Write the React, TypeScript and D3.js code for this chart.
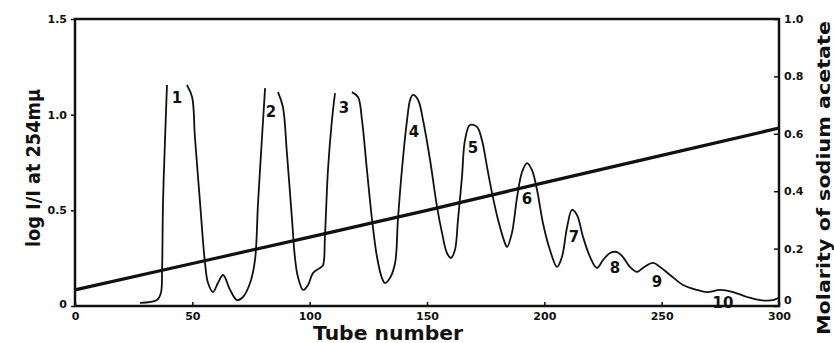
import React, { useEffect, useRef } from 'react';
import * as d3 from 'd3';

// absorbance trace, null = pen off scale (peak tops cut off)
const tubes = [
  27.7, 34.9, 36.6, 37.1, 37.5, 38.4, 39.2, 43.5,
  47.7, 49.9, 51.1, 53.3, 55.4, 56.7, 58.8, 60.9, 63.1, 66.1, 69.0, 71.6, 74.6, 76.7, 78.0, 79.7, 81.0, 83.7,
  86.5, 88.6, 90.3, 92.5, 93.7, 95.0, 97.2, 99.3, 101.4, 104.4, 105.7, 106.5, 107.8, 109.5, 110.8, 114.4,
  118.0, 120.6, 122.3, 124.4, 126.6, 128.7, 130.8, 132.1, 134.2, 136.4, 137.6, 139.3, 141.5, 142.8, 144.0,
  146.2, 148.3, 151.3, 154.3, 156.4, 158.5, 160.2, 161.9, 163.2, 164.9, 166.2, 168.3, 171.3, 173.4, 175.6,
  177.7, 180.3, 183.2, 184.1, 186.2, 188.4, 190.5, 192.6, 194.7, 196.9, 199.4, 202.4, 205.4, 207.5, 209.7,
  211.8, 213.9, 216.5, 219.5, 222.4, 225.0, 228.0, 231.0, 233.5, 236.5, 239.5, 242.0, 246.3, 249.3, 253.6,
  259.1, 265.1, 269.3, 274.9, 280.4, 286.4, 291.9, 297.4, 299.6,
];
const absorbance = [
  0.016, 0.031, 0.068, 0.188, 0.538, 0.883, 1.155, null,
  1.155, 1.092, 0.883, 0.538, 0.225, 0.120, 0.073, 0.120, 0.162, 0.084, 0.031, 0.047, 0.120, 0.240, 0.538, 0.883, 1.139, null,
  1.118, 1.040, 0.800, 0.449, 0.256, 0.152, 0.084, 0.110, 0.172, 0.199, 0.214, 0.361, 0.711, 0.972, 1.113, null,
  1.118, 1.092, 0.972, 0.711, 0.449, 0.256, 0.146, 0.120, 0.146, 0.225, 0.449, 0.711, 0.972, 1.077, 1.103,
  1.077, 0.972, 0.763, 0.517, 0.382, 0.277, 0.251, 0.293, 0.449, 0.674, 0.868, 0.946, 0.936, 0.868, 0.726,
  0.591, 0.449, 0.329, 0.308, 0.382, 0.570, 0.700, 0.747, 0.711, 0.606, 0.434, 0.293, 0.204, 0.256, 0.413,
  0.502, 0.476, 0.361, 0.256, 0.199, 0.240, 0.277, 0.282, 0.256, 0.204, 0.178, 0.199, 0.225, 0.204, 0.162,
  0.110, 0.084, 0.073, 0.084, 0.073, 0.047, 0.031, 0.031, 0.042,
];

// sodium acetate gradient (right axis)
const molarityTubes = [0, 50, 100, 150, 200, 250, 300];
const molarity = [0.056, 0.148, 0.24, 0.333, 0.43, 0.525, 0.62];

// peak numbers
const peakNames = ['1', '2', '3', '4', '5', '6', '7', '8', '9', '10'];
const peakTubes = [43.5, 83.5, 114.6, 144.5, 169.6, 192.6, 212.6, 230.1, 248.0, 276.1];
const peakLevels = [1.087, 1.014, 1.035, 0.909, 0.826, 0.559, 0.361, 0.199, 0.125, 0.016];

const xTicks = [0, 50, 100, 150, 200, 250, 300];
const leftTicks = [0, 0.5, 1.0, 1.5];
const rightTicks = [0, 0.2, 0.4, 0.6, 0.8, 1.0];

const W = 834;
const H = 343;
const FONT = '"DejaVu Sans", sans-serif';

export default function App() {
  const svgRef = useRef<SVGSVGElement>(null);

  useEffect(() => {
    const svg = d3.select(svgRef.current);
    svg.selectAll('*').remove();

    const x = d3.scaleLinear().domain([0, 300]).range([75, 779]);
    const yL = d3.scaleLinear().domain([0, 1.5]).range([306, 19]);
    const yR = d3.scaleLinear().domain([0, 1.0]).range([306, 19]);

    // axes
    const fmt = (d: number) => (d === 0 ? '0' : d3.format('.1f')(d));

    const gx = svg.append('g')
      .attr('transform', `translate(0,${yL(0)})`)
      .call(d3.axisBottom(x).tickValues(xTicks).tickSizeInner(-4).tickSizeOuter(0).tickPadding(6)
        .tickFormat(d => String(d)));

    const gl = svg.append('g')
      .attr('transform', `translate(${x(0)},0)`)
      .call(d3.axisLeft(yL).tickValues(leftTicks).tickSizeInner(4).tickSizeOuter(0).tickPadding(4)
        .tickFormat(d => fmt(+d)));

    const gr = svg.append('g')
      .attr('transform', `translate(${x(300)},0)`)
      .call(d3.axisRight(yR).tickValues(rightTicks).tickSizeInner(-5).tickSizeOuter(0).tickPadding(5)
        .tickFormat(d => fmt(+d)));

    [gx, gl, gr].forEach(g => {
      g.select('.domain').remove();
      g.selectAll('line').attr('stroke', '#111').attr('stroke-width', 1.5);
      g.selectAll('text')
        .attr('font-family', FONT)
        .attr('font-weight', 'bold')
        .attr('font-size', 11)
        .attr('fill', '#111');
    });
    gl.selectAll('text').filter((d: any) => d === 0).attr('dy', '0.1em');
    gr.selectAll('text').filter((d: any) => d === 0).attr('dy', '-0.2em');

    // frame
    svg.append('rect')
      .attr('x', x(0))
      .attr('y', yL(1.5))
      .attr('width', x(300) - x(0))
      .attr('height', yL(0) - yL(1.5))
      .attr('fill', 'none')
      .attr('stroke', '#111')
      .attr('stroke-width', 2.5);

    // gradient line
    const molLine = d3.line<number>()
      .x((d, i) => x(molarityTubes[i]))
      .y(d => yR(d));
    svg.append('path')
      .attr('d', molLine(molarity))
      .attr('fill', 'none')
      .attr('stroke', '#111')
      .attr('stroke-width', 3.2);

    // absorbance trace
    const absLine = d3.line<number | null>()
      .defined(d => d !== null)
      .x((d, i) => x(tubes[i]))
      .y(d => yL(d as number))
      .curve(d3.curveCatmullRom);
    svg.append('path')
      .attr('d', absLine(absorbance))
      .attr('fill', 'none')
      .attr('stroke', '#111')
      .attr('stroke-width', 1.8)
      .attr('stroke-linejoin', 'round');

    // peak numbers
    svg.append('g')
      .selectAll('text')
      .data(peakNames)
      .enter().append('text')
      .attr('x', (d, i) => x(peakTubes[i]))
      .attr('y', (d, i) => yL(peakLevels[i]))
      .attr('text-anchor', 'middle')
      .attr('dominant-baseline', 'central')
      .attr('font-family', FONT)
      .attr('font-weight', 'bold')
      .attr('font-size', 15)
      .attr('fill', '#111')
      .text(d => d);

    // axis titles
    svg.append('text')
      .attr('transform', `translate(40,168) rotate(-90)`)
      .attr('text-anchor', 'middle')
      .attr('font-family', FONT)
      .attr('font-weight', 'bold')
      .attr('font-size', 19)
      .attr('textLength', 158)
      .attr('lengthAdjust', 'spacingAndGlyphs')
      .attr('fill', '#111')
      .text('log I/I at 254mμ');

    svg.append('text')
      .attr('transform', `translate(830,178) rotate(-90)`)
      .attr('text-anchor', 'middle')
      .attr('font-family', FONT)
      .attr('font-weight', 'bold')
      .attr('font-size', 18)
      .attr('textLength', 314)
      .attr('lengthAdjust', 'spacingAndGlyphs')
      .attr('fill', '#111')
      .text('Molarity of sodium acetate');

    svg.append('text')
      .attr('x', 388)
      .attr('y', 340)
      .attr('text-anchor', 'middle')
      .attr('font-family', FONT)
      .attr('font-weight', 'bold')
      .attr('font-size', 19)
      .attr('textLength', 150)
      .attr('lengthAdjust', 'spacingAndGlyphs')
      .attr('fill', '#111')
      .text('Tube number');
  }, []);

  return (
    <div style={{ position: 'absolute', left: 0, top: 0 }}>
      <svg ref={svgRef} width={W} height={H} style={{ display: 'block', background: '#fff' }} />
    </div>
  );
}
